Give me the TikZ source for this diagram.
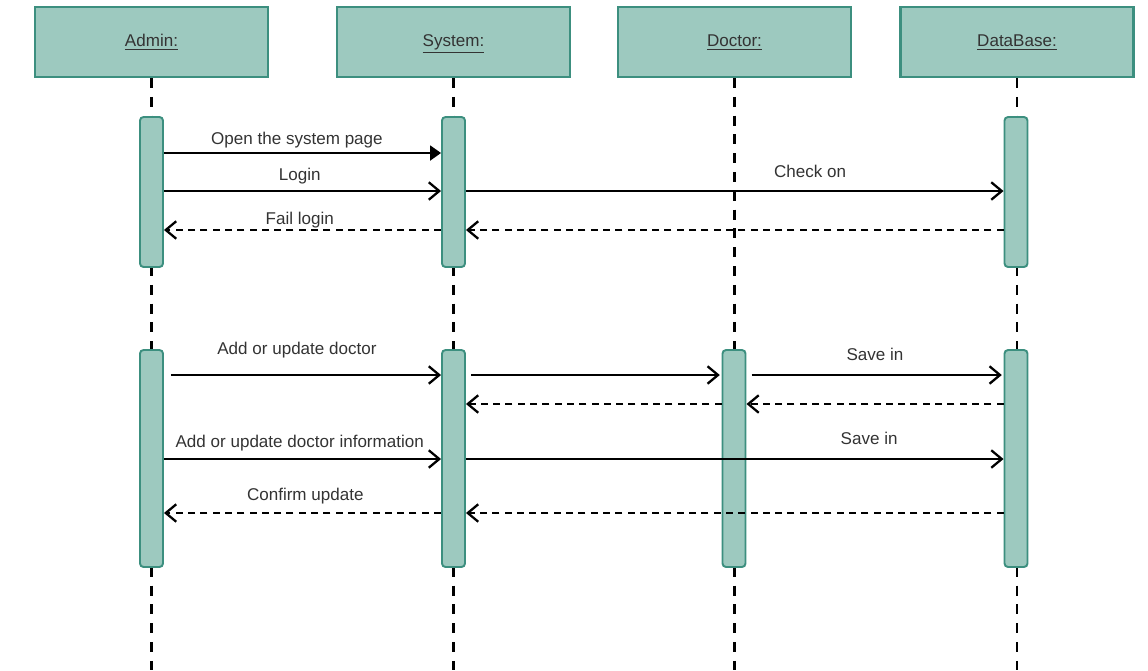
\documentclass[tikz,border=0pt]{standalone}
\usepackage{fontspec}
\setmainfont{Liberation Sans}
\usetikzlibrary{arrows.meta,positioning,calc}
\definecolor{boxfill}{HTML}{9DC9BF}
\definecolor{boxline}{HTML}{3C8F7F}
\definecolor{txt}{HTML}{333333}

\begin{document}
\begin{tikzpicture}[
        x=0.02cm, y=-0.02cm,
        head/.style={rectangle, draw=boxline, fill=boxfill, line width=1.2pt, minimum width=4.66cm, minimum height=1.4cm, font=\fontsize{9.7}{11}\selectfont, text=txt, text height=7pt, text depth=2pt},
        bar/.style={rectangle, draw=boxline, fill=boxfill, line width=1.1pt, rounded corners=2pt, minimum width=0.46cm},
        lifeline/.style={line width=1.3pt, dash pattern=on 5.7pt off 5pt},
        call/.style={-{Triangle[length=2.2mm, width=3mm]}, line width=1.1pt},
        msg/.style={-{Straight Barb[length=2.1mm, width=3.5mm, line width=1.3pt]}, line width=1.1pt},
        reply/.style={msg, dash pattern=on 4pt off 3pt},
        lbl/.style={font=\fontsize{9.7}{11}\selectfont, text=txt, inner sep=0pt, text height=7pt, text depth=2pt}
    ]
    \useasboundingbox (0,0) rectangle (1148,670);

    % Lifeline heads
    \node[head] (admin) at (151.5,42) {\underline{Admin:}};
    \node[head] (system) at (453.5,42) {\underline{System:}};
    \node[head] (doctor) at (734.5,42) {\underline{Doctor:}};
    \node[head] (db) at (1017,42) {\underline{DataBase:}};

    % Lifelines
    \coordinate (bottom) at (0,670);
    \foreach \p in {admin,system,doctor,db}
        \draw[lifeline] (\p.south) -- (\p.south |- bottom);

    % Activations: login
    \node[bar, minimum height=3cm] (a1) at (151.5,192) {};
    \node[bar, minimum height=3cm] (s1) at (453.5,192) {};
    \node[bar, minimum height=3cm] (d1) at (1016,192) {};

    % Activations: doctor data
    \node[bar, minimum height=4.34cm] (a2) at (151.5,458.5) {};
    \node[bar, minimum height=4.34cm] (s2) at (453.5,458.5) {};
    \node[bar, minimum height=4.34cm] (c2) at (734,458.5) {};
    \node[bar, minimum height=4.34cm] (d2) at (1016,458.5) {};

    % Message rows
    \coordinate (m1) at (0,153);
    \coordinate (m2) at (0,191);
    \coordinate (m3) at (0,230);
    \coordinate (m4) at (0,375);
    \coordinate (m5) at (0,404);
    \coordinate (m6) at (0,459);
    \coordinate (m7) at (0,513);

    % Login
    \draw[call] (a1.east |- m1) -- node[lbl, above=2.5pt, pos=0.48] {Open the system page} (s1.west |- m1);
    \draw[msg] (a1.east |- m2) -- node[lbl, above=3.5pt, pos=0.49] {Login} (s1.west |- m2);
    \draw[msg] (s1.east |- m2) -- node[lbl, above=5.2pt, pos=0.64] {Check on} (d1.west |- m2);
    \draw[reply] (d1.west |- m3) -- (s1.east |- m3);
    \draw[reply] (s1.west |- m3) -- node[lbl, above=0.8pt, pos=0.51] {Fail login} (a1.east |- m3);

    % Add or update doctor
    \draw[msg, shorten <=4pt] (a2.east |- m4) -- node[lbl, above=9pt, pos=0.48] {Add or update doctor} (s2.west |- m4);
    \draw[msg, shorten <=3pt, shorten >=1pt] (s2.east |- m4) -- (c2.west |- m4);
    \draw[msg, shorten <=3pt, shorten >=1pt] (c2.east |- m4) -- node[lbl, above=5.8pt] {Save in} (d2.west |- m4);
    \draw[reply] (d2.west |- m5) -- (c2.east |- m5);
    \draw[reply] (c2.west |- m5) -- (s2.east |- m5);

    % Doctor information
    \draw[msg] (a2.east |- m6) -- node[lbl, above=4.2pt, pos=0.49] {Add or update doctor information} (s2.west |- m6);
    \draw[msg] (s2.east |- m6) -- node[lbl, above=5.8pt, pos=0.75] {Save in} (d2.west |- m6);
    \draw[reply] (d2.west |- m7) -- (s2.east |- m7);
    \draw[reply] (s2.west |- m7) -- node[lbl, above=4.7pt, pos=0.49] {Confirm update} (a2.east |- m7);

\end{tikzpicture}
\end{document}
